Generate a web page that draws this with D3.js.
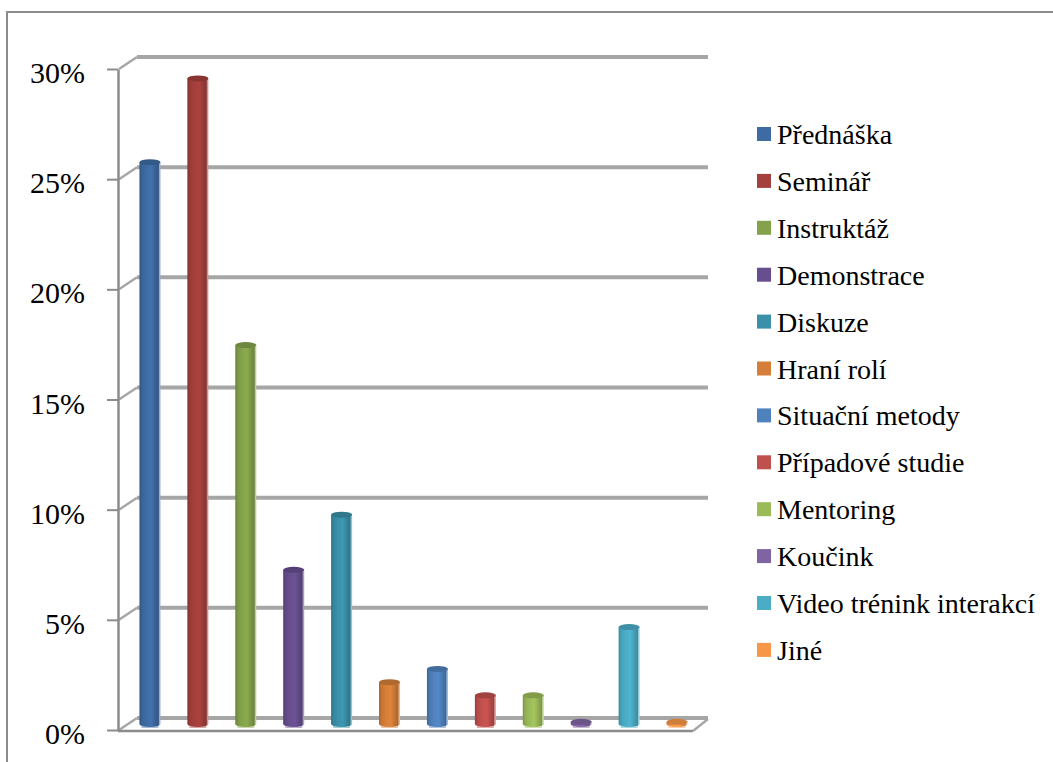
<!DOCTYPE html>
<html>
<head>
<meta charset="utf-8">
<script src="https://cdn.jsdelivr.net/npm/d3@7"></script>
</head>
<body style="margin:0">
<svg id="chart" width="1053" height="762"></svg>
<script>
// Teaching methods used, share of answers (%)
const categories = [
  "Přednáška", "Seminář", "Instruktáž", "Demonstrace", "Diskuze", "Hraní rolí",
  "Situační metody", "Případové studie", "Mentoring", "Koučink",
  "Video trénink interakcí", "Jiné"
];
const values = [25.5, 29.3, 17.2, 7.0, 9.5, 1.9, 2.5, 1.3, 1.3, 0.1, 4.4, 0.1];
const colors = [
  "#3e6ba3", "#a33f3c", "#84a24b", "#674e8e", "#3a90a8", "#d57e38",
  "#4f81bd", "#c0504d", "#9bbb59", "#8064a2", "#4bacc6", "#f79646"
];
const tickValues = [0, 5, 10, 15, 20, 25, 30];
const tickLabels = ["0%", "5%", "10%", "15%", "20%", "25%", "30%"];

const svg = d3.select("#chart");

// Outer chart frame (runs off the right and bottom edges)
svg.append("rect")
  .attr("x", 7).attr("y", 12)
  .attr("width", 1100).attr("height", 800)
  .attr("fill", "none").attr("stroke", "#8c8c8c").attr("stroke-width", 2);

// Plot geometry: front plane and depth offset of the back wall
const frontLeft = 118, frontRight = 693;
const depthX = 19, depthY = -12;

const y = d3.scaleLinear().domain([0, 30]).range([730, 69]);
const x = d3.scaleBand().domain(categories).range([frontLeft, frontRight]).paddingInner(0).paddingOuter(0);

// Back wall gridlines with the short diagonal from the side wall edge
const grid = svg.append("g");
tickValues.forEach(v => {
  const yf = y(v);
  grid.append("line")
    .attr("x1", frontLeft + depthX).attr("x2", frontRight + depthX - 4)
    .attr("y1", yf + depthY).attr("y2", yf + depthY)
    .attr("stroke", "#a6a6a6").attr("stroke-width", 4);
  grid.append("line")
    .attr("x1", frontLeft + 1).attr("y1", yf)
    .attr("x2", frontLeft + depthX).attr("y2", yf + depthY)
    .attr("stroke", "#a6a6a6").attr("stroke-width", 2.5);
});

// Floor front edge and right-hand diagonal
svg.append("line")
  .attr("x1", frontLeft).attr("x2", frontRight)
  .attr("y1", y(0) + 1).attr("y2", y(0) + 1)
  .attr("stroke", "#8c8c8c").attr("stroke-width", 2.5);
svg.append("line")
  .attr("x1", frontRight).attr("y1", y(0) + 1)
  .attr("x2", frontRight + depthX - 4).attr("y2", y(0) + depthY + 1)
  .attr("stroke", "#a6a6a6").attr("stroke-width", 2.5);

// Vertical axis
const axis = d3.axisLeft(y)
  .tickValues(tickValues)
  .tickFormat((d, i) => tickLabels[i])
  .tickSizeInner(11).tickSizeOuter(0).tickPadding(22);
const axisG = svg.append("g")
  .attr("transform", `translate(${frontLeft},0)`)
  .call(axis);
axisG.attr("font-family", null).attr("font-size", null);
axisG.select(".domain").attr("stroke", "#8c8c8c").attr("stroke-width", 2.5);
axisG.selectAll(".tick line").attr("stroke", "#8c8c8c").attr("stroke-width", 2);
axisG.selectAll(".tick text")
  .style("font", "30px 'Liberation Serif'")
  .attr("fill", "#000").attr("dy", "0.45em");

// Cylinder shading gradients
const defs = svg.append("defs");
colors.forEach((c, i) => {
  const base = d3.color(c);
  const g = defs.append("linearGradient").attr("id", "cyl" + i)
    .attr("x1", "0%").attr("x2", "100%").attr("y1", "0%").attr("y2", "0%");
  const light = d3.interpolateRgb(c, "#ffffff")(0.45);
  [[0, base.darker(0.7)], [0.12, base.darker(0.2)], [0.3, base], [0.55, base.brighter(0.15)],
   [0.8, base.darker(0.35)], [0.9, base.darker(0.6)], [0.95, light], [1, light]]
    .forEach(([o, col]) => g.append("stop").attr("offset", o).attr("stop-color", col.toString()));
});

// Bars drawn as cylinders at mid depth
const midX = depthX / 2 - 1.5, midY = depthY / 2;
const barW = 21, ry = 3;
const bars = svg.append("g").selectAll("g").data(values).join("g");
bars.each(function (v, i) {
  const g = d3.select(this);
  const cx = x(categories[i]) + x.bandwidth() / 2 + midX;
  const yTop = y(v) + midY;
  const yBot = y(0) + midY;
  const base = d3.color(colors[i]);
  // pale footprint under the base
  g.append("rect")
    .attr("x", cx - barW / 2 + 2).attr("y", yBot)
    .attr("width", barW - 4).attr("height", 4)
    .attr("fill", d3.interpolateRgb(colors[i], "#ffffff")(0.55));
  g.append("ellipse")
    .attr("cx", cx).attr("cy", yBot).attr("rx", barW / 2).attr("ry", ry)
    .attr("fill", `url(#cyl${i})`);
  g.append("rect")
    .attr("x", cx - barW / 2).attr("y", yTop)
    .attr("width", barW).attr("height", Math.max(0, yBot - yTop))
    .attr("fill", `url(#cyl${i})`);
  g.append("ellipse")
    .attr("cx", cx).attr("cy", yTop).attr("rx", barW / 2).attr("ry", ry)
    .attr("fill", base.darker(0.5).toString());
});

// Legend
const legend = svg.append("g").attr("transform", "translate(757,134)");
const rowH = 46.9;
const items = legend.selectAll("g").data(categories).join("g")
  .attr("transform", (d, i) => `translate(0,${i * rowH})`);
items.append("rect")
  .attr("x", 0).attr("y", -7).attr("width", 14).attr("height", 14)
  .attr("fill", (d, i) => colors[i]);
items.append("text")
  .attr("x", 20).attr("y", 10)
  .style("font", "28px 'Liberation Serif'")
  .attr("fill", "#000")
  .text(d => d);
</script>
</body>
</html>
